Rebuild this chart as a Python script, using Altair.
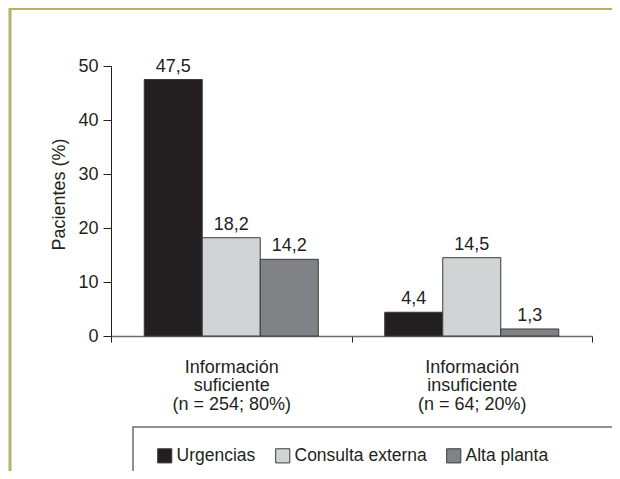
import altair as alt
import pandas as pd

# ---- data ----
categories = ["Información|suficiente|(n = 254; 80%)",
              "Información|insuficiente|(n = 64; 20%)"]
series = ["Urgencias", "Consulta externa", "Alta planta"]
values_suficiente = [47.5, 18.2, 14.2]
values_insuficiente = [4.4, 14.5, 1.3]
colors = ["#231f20", "#d1d3d4", "#808285"]
y_ticks = [0, 10, 20, 30, 40, 50]

rows = []
for cat, vals in zip(categories, [values_suficiente, values_insuficiente]):
    for s, v in zip(series, vals):
        rows.append({"cat": cat, "series": s, "value": v})
df = pd.DataFrame(rows)

FONT = "Liberation Sans"
INK = "#231f20"

x_enc = alt.X(
    "cat:N", sort=categories,
    scale=alt.Scale(paddingInner=0, paddingOuter=0),
    axis=alt.Axis(
        title=None, labelAngle=0, labelExpr="split(datum.label, '|')",
        tickBand="extent", tickSize=6, tickColor=INK, tickWidth=1,
        labelPadding=16, labelFontSize=18, labelLineHeight=18.5,
        labelFont=FONT, labelColor=INK,
        domainColor="#6d6e71", domainWidth=1.5,
    ),
)
xoff_enc = alt.XOffset("series:N", sort=series,
                       scale=alt.Scale(paddingInner=0, paddingOuter=0.573))
y_enc = alt.Y(
    "value:Q",
    scale=alt.Scale(domain=[0, 50], nice=False),
    axis=alt.Axis(
        values=y_ticks, title="Pacientes (%)", grid=False,
        titleFont=FONT, titleFontSize=18, titleFontWeight="normal",
        titleColor=INK, titlePadding=9, titleY=128,
        labelFont=FONT, labelFontSize=18, labelColor=INK, labelPadding=5,
        tickSize=8, tickColor=INK, domainColor=INK, domainWidth=1,
    ),
)

base = alt.Chart(df)

# decorative frame (olive lines at top and left) and legend box
frame_data = alt.Data(values=[{"k": 1}])
frame_top = alt.Chart(frame_data).mark_rule(color="#b5b16b", strokeWidth=3).encode(
    x=alt.value(-102), x2=alt.value(600), y=alt.value(-57.5))
frame_left = alt.Chart(frame_data).mark_rule(color="#b5b16b", strokeWidth=3).encode(
    x=alt.value(-101), y=alt.value(-59), y2=alt.value(500))
legend_box = alt.Chart(frame_data).mark_rect(
    fillOpacity=0, stroke="#6d6e71", strokeWidth=1.5).encode(
    x=alt.value(22), x2=alt.value(560), y=alt.value(361), y2=alt.value(460))

bars = base.mark_bar(stroke="#3a3a3a", strokeWidth=1).encode(
    x=x_enc, xOffset=xoff_enc, y=y_enc,
    color=alt.Color(
        "series:N", sort=series,
        scale=alt.Scale(domain=series, range=colors),
        legend=alt.Legend(
            title=None, orient="none", legendX=45, legendY=381,
            direction="horizontal", symbolType="square", symbolSize=200,
            symbolStrokeColor="#3a3a3a", symbolStrokeWidth=1,
            labelFont=FONT, labelFontSize=17.5, labelColor=INK,
            labelOffset=3, columnPadding=17, padding=0,
        ),
    ),
)

labels = base.transform_calculate(
    lab="replace(format(datum.value, '.1f'), '.', ',')"
).mark_text(baseline="bottom", dy=-4, font=FONT, fontSize=18, color=INK).encode(
    x=alt.X("cat:N", sort=categories), xOffset=alt.XOffset("series:N", sort=series),
    y="value:Q", text="lab:N",
)

chart = alt.layer(frame_top, frame_left, legend_box, bars, labels).properties(
    width=481, height=270,
    autosize=alt.AutoSizeParams(type="none"),
    padding={"left": 103, "top": 58, "right": 20, "bottom": 135},
    background="white",
).configure_view(stroke=None)

chart.save("out.html", embed_options={"renderer": "svg", "actions": False})
